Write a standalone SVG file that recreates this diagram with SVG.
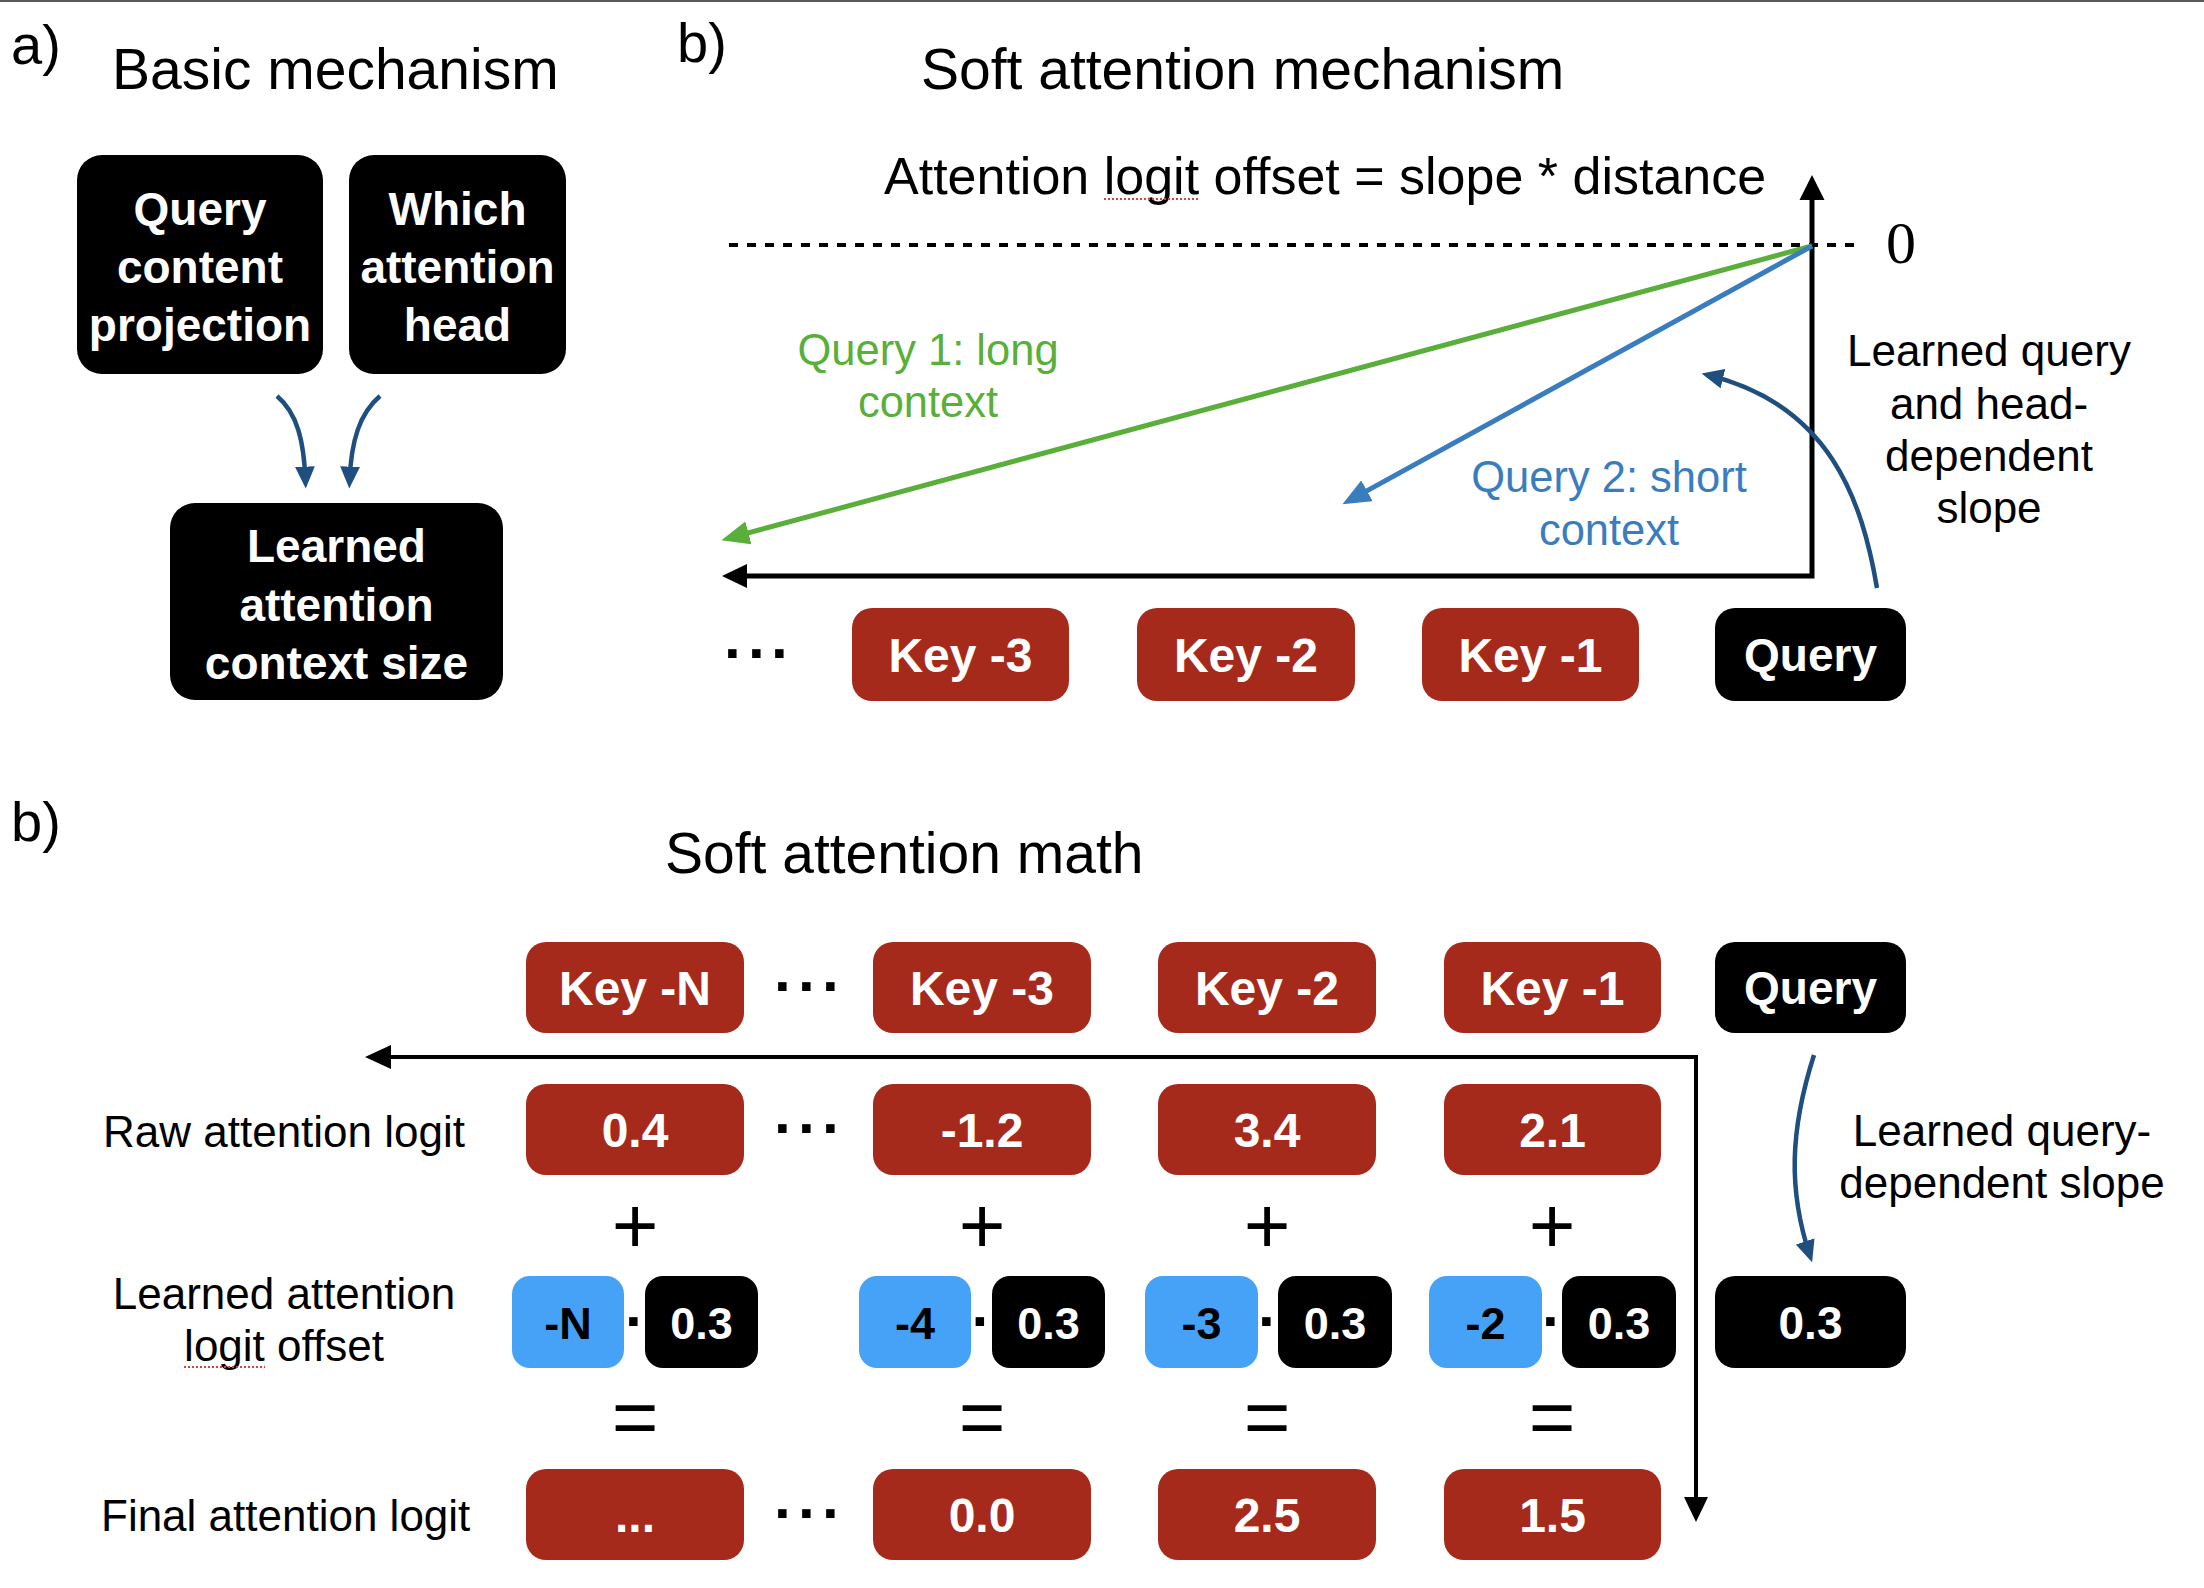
<svg xmlns="http://www.w3.org/2000/svg" width="2204" height="1588" viewBox="0 0 2204 1588">
<defs>
<style>
text{font-family:"Liberation Sans",Arial,Helvetica,sans-serif;}
.title{font-size:57px;fill:#000}
.plab{font-size:56px;fill:#000}
.lbl{font-size:44px;fill:#000}
.ctr{text-anchor:middle}
.bw{font-size:46px;font-weight:bold;fill:#fff;text-anchor:middle}
.key{font-size:48px;font-weight:bold;fill:#fff;text-anchor:middle}
.smw{font-size:45px;font-weight:bold;fill:#fff;text-anchor:middle}
.smk{font-size:45px;font-weight:bold;fill:#000;text-anchor:middle}
.red{fill:#a62a1b}
.blk{fill:#000}
.blu{fill:#45a2f7}
.dots{font-size:60px;font-weight:bold;fill:#000;text-anchor:middle}
.op{font-size:80px;fill:#000;text-anchor:middle}
.darr{fill:none;stroke:#1f4f7f;stroke-width:4.5}
.spell{stroke:#e0403a;stroke-width:2;stroke-dasharray:2 2;fill:none}
</style>
<marker id="ad" markerUnits="userSpaceOnUse" markerWidth="22" markerHeight="20" refX="14" refY="9" orient="auto" viewBox="0 0 20 18"><path d="M0,0 L20,9 L0,18 Z" fill="#1f4f7f"/></marker>
<marker id="ag" markerUnits="userSpaceOnUse" markerWidth="28" markerHeight="24" refX="18" refY="11" orient="auto" viewBox="0 0 26 22"><path d="M0,0 L26,11 L0,22 Z" fill="#5aaf3b"/></marker>
<marker id="ab" markerUnits="userSpaceOnUse" markerWidth="28" markerHeight="24" refX="18" refY="11" orient="auto" viewBox="0 0 26 22"><path d="M0,0 L26,11 L0,22 Z" fill="#3a7dbf"/></marker>
</defs>
<rect x="0" y="0" width="2204" height="1588" fill="#fff"/>
<line x1="0" y1="1" x2="2204" y2="1" stroke="#222" stroke-width="1.5"/>

<!-- Panel a -->
<g id="panel-a-labels">
<text class="plab" x="11" y="64">a)</text>
<text class="title" x="112" y="89">Basic mechanism</text>
</g>
<g id="node-query-content">
<rect class="blk" x="77" y="155" width="246" height="219" rx="25"/>
<text class="bw" x="200" y="225">Query</text>
<text class="bw" x="200" y="283">content</text>
<text class="bw" x="200" y="341">projection</text>
</g>
<g id="node-which-head">
<rect class="blk" x="349" y="155" width="217" height="219" rx="25"/>
<text class="bw" x="457.5" y="225">Which</text>
<text class="bw" x="457.5" y="283">attention</text>
<text class="bw" x="457.5" y="341">head</text>
</g>
<g id="node-context-size">
<rect class="blk" x="170" y="503" width="333" height="197" rx="25"/>
<text class="bw" x="336.5" y="562">Learned</text>
<text class="bw" x="336.5" y="621">attention</text>
<text class="bw" x="336.5" y="679">context size</text>
</g>

<!-- Panel b top -->
<g id="panel-b-labels">
<text class="plab" x="677" y="62">b)</text>
<text class="title" x="921" y="89">Soft attention mechanism</text>
<text style="font-size:52px" x="884" y="194">Attention logit offset = slope * distance</text>
<line class="spell" x1="1104" y1="199" x2="1199" y2="199"/>
<text style="font-family:'Liberation Serif','Times New Roman',serif;font-size:60px" x="1886" y="263">0</text>
<text class="lbl" style="fill:#5aaf3b;font-size:43.5px" x="928" y="365" text-anchor="middle">Query 1: long</text>
<text class="lbl" style="fill:#5aaf3b;font-size:43.5px" x="928" y="417" text-anchor="middle">context</text>
<text class="lbl" style="fill:#3a7dbf;font-size:43.5px" x="1609" y="492" text-anchor="middle">Query 2: short</text>
<text class="lbl" style="fill:#3a7dbf;font-size:43.5px" x="1609" y="545" text-anchor="middle">context</text>
<text class="lbl ctr" x="1989" y="366">Learned query</text>
<text class="lbl ctr" x="1989" y="419">and head-</text>
<text class="lbl ctr" x="1989" y="471">dependent</text>
<text class="lbl ctr" x="1989" y="523">slope</text>
</g>

<g id="top-row">
<text class="dots" y="673"><tspan x="734">·</tspan><tspan x="758">·</tspan><tspan x="781">·</tspan></text>
<g id="top-key-3"><rect class="red" x="852" y="608" width="217" height="93" rx="20"/><text class="key" x="960.5" y="672">Key -3</text></g>
<g id="top-key-2"><rect class="red" x="1137" y="608" width="218" height="93" rx="20"/><text class="key" x="1246" y="672">Key -2</text></g>
<g id="top-key-1"><rect class="red" x="1422" y="608" width="217" height="93" rx="20"/><text class="key" x="1530.5" y="672">Key -1</text></g>
<g id="top-query"><rect class="blk" x="1715" y="608" width="191" height="93" rx="20"/><text class="bw" x="1810.5" y="671">Query</text></g>
</g>

<g id="connectors">
<!-- panel a -->
<path class="darr" d="M277,396 C297,413 304,440 305.5,482" marker-end="url(#ad)"/>
<path class="darr" d="M380,396 C360,413 351,440 349.5,482" marker-end="url(#ad)"/>
<!-- top axes -->
<path d="M1812,198 V576 H746" fill="none" stroke="#000" stroke-width="5"/>
<polygon points="1812,175 1799.5,200 1824.5,200" fill="#000"/>
<polygon points="722,576 747,564 747,588" fill="#000"/>
<line x1="729" y1="245" x2="1856" y2="245" stroke="#000" stroke-width="4" stroke-dasharray="9 9"/>
<line x1="1812" y1="246" x2="729.7" y2="537.9" stroke="#5aaf3b" stroke-width="5" marker-end="url(#ag)"/>
<line x1="1812" y1="246" x2="1350" y2="500.1" stroke="#3a7dbf" stroke-width="5" marker-end="url(#ab)"/>
<path class="darr" d="M1877,588 C1862,500 1830,405 1708,375" marker-end="url(#ad)"/>
<!-- bottom axes -->
<path d="M390,1057 H1696 V1498" fill="none" stroke="#000" stroke-width="4"/>
<polygon points="365,1057 391,1045 391,1069" fill="#000"/>
<polygon points="1696,1522 1684,1497 1708,1497" fill="#000"/>
<path class="darr" d="M1814,1055 C1790,1130 1788,1190 1810,1256" marker-end="url(#ad)"/>
</g>

<!-- Panel b bottom -->
<g id="panel-b2-labels">
<text class="plab" x="11" y="841">b)</text>
<text class="title" x="665" y="873">Soft attention math</text>
<text class="lbl" x="103" y="1147">Raw attention logit</text>
<text class="lbl ctr" x="284" y="1309">Learned attention</text>
<text class="lbl ctr" x="284" y="1361">logit offset</text>
<line class="spell" x1="184" y1="1367" x2="265" y2="1367"/>
<text class="lbl" x="101" y="1531">Final attention logit</text>
<text class="lbl ctr" x="2002" y="1146">Learned query-</text>
<text class="lbl ctr" x="2002" y="1198">dependent slope</text>
</g>

<g id="key-row">
<g id="key-n"><rect class="red" x="526" y="942" width="218" height="91" rx="20"/><text class="key" x="635" y="1005">Key -N</text></g>
<text class="dots" y="1006"><tspan x="784">·</tspan><tspan x="808">·</tspan><tspan x="832">·</tspan></text>
<g id="key-3"><rect class="red" x="873" y="942" width="218" height="91" rx="20"/><text class="key" x="982" y="1005">Key -3</text></g>
<g id="key-2"><rect class="red" x="1158" y="942" width="218" height="91" rx="20"/><text class="key" x="1267" y="1005">Key -2</text></g>
<g id="key-1"><rect class="red" x="1444" y="942" width="217" height="91" rx="20"/><text class="key" x="1552.5" y="1005">Key -1</text></g>
<g id="query"><rect class="blk" x="1715" y="942" width="191" height="91" rx="20"/><text class="bw" x="1810.5" y="1004">Query</text></g>
</g>

<g id="raw-row">
<g id="raw-n"><rect class="red" x="526" y="1084" width="218" height="91" rx="20"/><text class="key" x="635" y="1147">0.4</text></g>
<text class="dots" y="1148"><tspan x="784">·</tspan><tspan x="808">·</tspan><tspan x="832">·</tspan></text>
<g id="raw-3"><rect class="red" x="873" y="1084" width="218" height="91" rx="20"/><text class="key" x="982" y="1147">-1.2</text></g>
<g id="raw-2"><rect class="red" x="1158" y="1084" width="218" height="91" rx="20"/><text class="key" x="1267" y="1147">3.4</text></g>
<g id="raw-1"><rect class="red" x="1444" y="1084" width="217" height="91" rx="20"/><text class="key" x="1552.5" y="1147">2.1</text></g>
</g>

<g id="plus-signs">
<text class="op" x="635" y="1253">+</text>
<text class="op" x="982" y="1253">+</text>
<text class="op" x="1267" y="1253">+</text>
<text class="op" x="1552" y="1253">+</text>
</g>

<g id="offset-row">
<g id="off-n"><rect class="blu" x="512" y="1276" width="112" height="92" rx="18"/><text class="smk" x="568" y="1339">-N</text>
<text class="dots" x="635" y="1341">·</text>
<rect class="blk" x="645" y="1276" width="113" height="92" rx="18"/><text class="smw" x="701.5" y="1339">0.3</text></g>
<g id="off-3"><rect class="blu" x="859" y="1276" width="112" height="92" rx="18"/><text class="smk" x="915" y="1339">-4</text>
<text class="dots" x="981.5" y="1341">·</text>
<rect class="blk" x="992" y="1276" width="113" height="92" rx="18"/><text class="smw" x="1048.5" y="1339">0.3</text></g>
<g id="off-2"><rect class="blu" x="1145" y="1276" width="113" height="92" rx="18"/><text class="smk" x="1201.5" y="1339">-3</text>
<text class="dots" x="1268" y="1341">·</text>
<rect class="blk" x="1278" y="1276" width="114" height="92" rx="18"/><text class="smw" x="1335" y="1339">0.3</text></g>
<g id="off-1"><rect class="blu" x="1429" y="1276" width="113" height="92" rx="18"/><text class="smk" x="1485.5" y="1339">-2</text>
<text class="dots" x="1552" y="1341">·</text>
<rect class="blk" x="1562" y="1276" width="114" height="92" rx="18"/><text class="smw" x="1619" y="1339">0.3</text></g>
<g id="slope"><rect class="blk" x="1715" y="1276" width="191" height="92" rx="20"/><text class="bw" x="1810.5" y="1339">0.3</text></g>
</g>

<g id="equals-signs">
<text class="op" x="635" y="1444">=</text>
<text class="op" x="982" y="1444">=</text>
<text class="op" x="1267" y="1444">=</text>
<text class="op" x="1552" y="1444">=</text>
</g>

<g id="final-row">
<g id="fin-n"><rect class="red" x="526" y="1469" width="218" height="91" rx="20"/><text class="key" x="635" y="1532">...</text></g>
<text class="dots" y="1533"><tspan x="784">·</tspan><tspan x="808">·</tspan><tspan x="832">·</tspan></text>
<g id="fin-3"><rect class="red" x="873" y="1469" width="218" height="91" rx="20"/><text class="key" x="982" y="1532">0.0</text></g>
<g id="fin-2"><rect class="red" x="1158" y="1469" width="218" height="91" rx="20"/><text class="key" x="1267" y="1532">2.5</text></g>
<g id="fin-1"><rect class="red" x="1444" y="1469" width="217" height="91" rx="20"/><text class="key" x="1552.5" y="1532">1.5</text></g>
</g>
</svg>
